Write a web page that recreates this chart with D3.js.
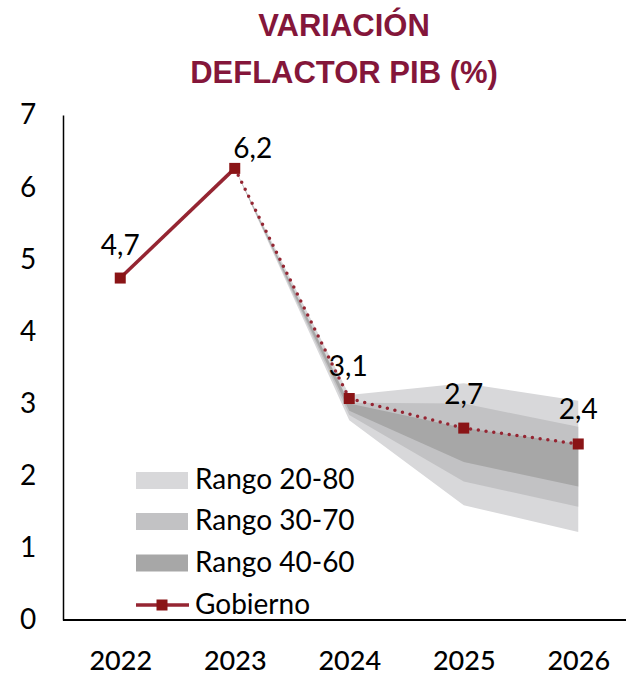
<!DOCTYPE html>
<html>
<head>
<meta charset="utf-8">
<script src="https://cdn.jsdelivr.net/npm/d3@7"></script>
<style>
  html, body { margin: 0; padding: 0; background: #ffffff; }
  svg { display: block; }
</style>
</head>
<body>
<svg id="chart" width="626" height="675"></svg>
<script>
// ---- data ----
const years = ["2022", "2023", "2024", "2025", "2026"];
const gobierno = [4.74, 6.26, 3.07, 2.66, 2.44];
const gobiernoLabels = ["4,7", "6,2", "3,1", "2,7", "2,4"];
const fanYears = ["2023", "2024", "2025", "2026"];
const rango2080Low  = [6.26, 2.77, 1.59, 1.22];
const rango2080High = [6.26, 3.12, 3.28, 3.04];
const rango3070Low  = [6.26, 2.84, 1.92, 1.57];
const rango3070High = [6.26, 3.01, 3.00, 2.68];
const rango4060Low  = [6.26, 2.90, 2.19, 1.85];
const rango4060High = [6.26, 3.00, 2.66, 2.44];
const yTicks = [0, 1, 2, 3, 4, 5, 6, 7];
const legendLabels = ["Rango 20-80", "Rango 30-70", "Rango 40-60", "Gobierno"];
const titleLines = ["VARIACIÓN", "DEFLACTOR PIB (%)"];

// ---- styles ----
const colLight = "#d8d8da", colMid = "#c2c2c4", colDark = "#a7a7a7";
const colLine = "#952532", colMarker = "#8a1416", colTitle = "#84163a";
const numFont = "Lato, 'Open Sans', sans-serif";

const svg = d3.select("#chart");
const x = d3.scalePoint().domain(years).range([63, 635.5]).padding(0.5);
const y = d3.scaleLinear().domain([0, 7]).range([620, 115]);

// title
svg.append("g").selectAll("text").data(titleLines).join("text")
  .attr("x", 344).attr("y", (d, i) => 36 + i * 47)
  .attr("text-anchor", "middle")
  .attr("font-family", "'Liberation Sans', Arial, sans-serif")
  .attr("font-weight", "bold").attr("font-size", 31)
  .attr("fill", colTitle).text(d => d);

// fan bands
const bands = [
  { lo: rango2080Low, hi: rango2080High, c: colLight },
  { lo: rango3070Low, hi: rango3070High, c: colMid },
  { lo: rango4060Low, hi: rango4060High, c: colDark }
];
const area = d3.area()
  .x(d => x(d.year)).y0(d => y(d.lo)).y1(d => y(d.hi));
bands.forEach(b => {
  const pts = fanYears.map((yr, i) => ({ year: yr, lo: b.lo[i], hi: b.hi[i] }));
  svg.append("path").datum(pts).attr("d", area).attr("fill", b.c);
});

// axes
const yAxis = svg.append("g").attr("transform", "translate(63,0)")
  .call(d3.axisLeft(y).tickValues(yTicks).tickSize(0).tickPadding(0).tickFormat(d3.format("d")));
yAxis.select(".domain").attr("stroke", "#000").attr("stroke-width", 1.5);
yAxis.selectAll("text").attr("x", -35).attr("text-anchor", "middle")
  .attr("font-family", numFont).attr("font-size", 28).attr("fill", "#000");

const xAxis = svg.append("g").attr("transform", "translate(0,620)")
  .call(d3.axisBottom(x).tickSize(0).tickPadding(0));
xAxis.select(".domain").attr("d", "M63,0H626").attr("stroke", "#000").attr("stroke-width", 2);
xAxis.selectAll("text").attr("dy", null).attr("y", 50)
  .attr("font-family", numFont).attr("font-size", 27).attr("font-weight", 500).attr("fill", "#000");

// gobierno line
const pts = years.map((yr, i) => ({ year: yr, v: gobierno[i], label: gobiernoLabels[i] }));
const line = d3.line().x(d => x(d.year)).y(d => y(d.v));
svg.append("path").datum(pts.slice(0, 2)).attr("d", line)
  .attr("fill", "none").attr("stroke", colLine).attr("stroke-width", 3.5);
svg.append("path").datum(pts.slice(1)).attr("d", line)
  .attr("fill", "none").attr("stroke", colLine).attr("stroke-width", 3.5)
  .attr("stroke-linecap", "round").attr("stroke-dasharray", "0 7.8");

// markers
svg.append("g").selectAll("rect").data(pts).join("rect")
  .attr("x", d => x(d.year) - 5.5).attr("y", d => y(d.v) - 5.5)
  .attr("width", 11).attr("height", 11).attr("fill", colMarker);

// data labels
const dx = [0, 18, -1, 0, 0];
const dy = [-23, -10, -23, -24, -25];
svg.append("g").selectAll("text").data(pts).join("text")
  .attr("x", (d, i) => x(d.year) + dx[i]).attr("y", (d, i) => y(d.v) + dy[i])
  .attr("text-anchor", "middle").attr("font-family", numFont).attr("font-size", 28)
  .attr("fill", "#000").text(d => d.label);

// legend
const legendColors = [colLight, colMid, colDark];
const lg = svg.append("g");
const rowY = [480.5, 521.5, 563, 605];
legendLabels.forEach((lab, i) => {
  if (i < 3) {
    lg.append("rect").attr("x", 136).attr("y", rowY[i] - 8.5)
      .attr("width", 52).attr("height", 17).attr("fill", legendColors[i]);
  } else {
    lg.append("line").attr("x1", 136).attr("x2", 189).attr("y1", rowY[i]).attr("y2", rowY[i])
      .attr("stroke", colLine).attr("stroke-width", 3.5);
    lg.append("rect").attr("x", 156.5).attr("y", rowY[i] - 5.5)
      .attr("width", 11).attr("height", 11).attr("fill", colMarker);
  }
  lg.append("text").attr("x", 195).attr("y", rowY[i] + 8.5)
    .attr("font-family", numFont).attr("font-size", 28).attr("fill", "#000").text(lab);
});
</script>
</body>
</html>
